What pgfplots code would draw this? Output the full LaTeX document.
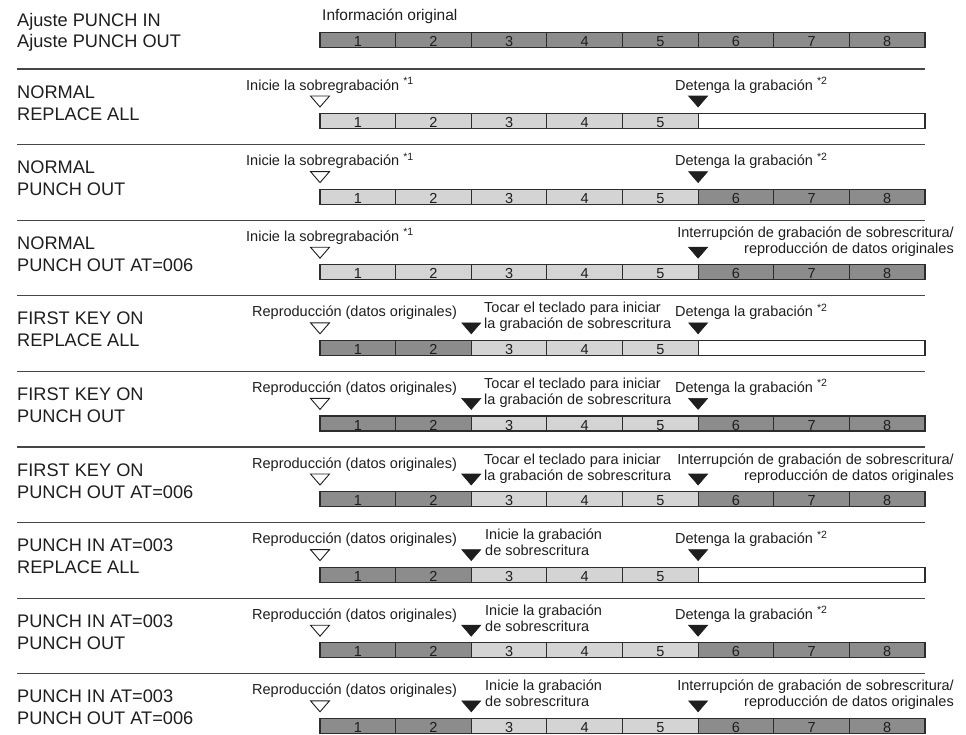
\documentclass[border=0pt]{standalone}
\usepackage{fontspec}
\setmainfont{Liberation Sans}
\usepackage{pgfplots}
\pgfplotsset{compat=1.18}
\definecolor{segD}{RGB}{140,140,140}
\definecolor{segL}{RGB}{212,212,212}
\definecolor{edge}{RGB}{45,45,45}
\definecolor{sepc}{RGB}{70,70,70}
\definecolor{txt}{RGB}{30,30,30}
\newcommand\lblfont{\fontsize{18.2}{22}\selectfont}
\newcommand\annfont{\fontsize{14.5}{16}\selectfont}
\newcommand\ttlfont{\fontsize{15.5}{17}\selectfont}
\newcommand\numfont{\fontsize{14.5}{15}\selectfont}
\newcommand\sups[1]{\raisebox{5.5pt}{\fontsize{10.5}{11}\selectfont #1}}
% one block of a bar: x0, x1, row centre, colour
\newcommand{\segbox}[4]{\pgfmathsetmacro\yt{#3-7.5}\pgfmathsetmacro\yb{#3+7.5}%
  \edef\tmp{\noexpand\addplot[draw=none,fill=#4] coordinates {(#1,\yt) (#2,\yt) (#2,\yb) (#1,\yb)} --cycle;}\tmp}
\newcommand{\divline}[2]{\pgfmathsetmacro\yt{#2-7.5}\pgfmathsetmacro\yb{#2+7.5}%
  \edef\tmp{\noexpand\addplot[draw=edge,line width=1.1pt] coordinates {(#1,\yt) (#1,\yb)};}\tmp}
\newcommand{\outline}[1]{\pgfmathsetmacro\yt{#1-7.5}\pgfmathsetmacro\yb{#1+7.5}%
  \edef\tmp{\noexpand\addplot[draw=edge,line width=1.2pt] coordinates {(320,\yt) (925,\yt) (925,\yb) (320,\yb)} --cycle;}\tmp}
\newcommand{\sepline}[1]{\pgfmathsetmacro\ys{#1-52}%
  \edef\tmp{\noexpand\addplot[draw=sepc,line width=1.1pt] coordinates {(17,\ys) (925,\ys)};}\tmp}
\newcommand{\numlbl}[3]{\pgfmathsetmacro\yn{#2+6.6}%
  \edef\tmp{\noexpand\node[anchor=base,inner sep=0pt,text=txt,font=\noexpand\numfont] at (axis cs:#1,\yn)}\tmp{#3};}
\newcommand{\tri}[4]{\pgfmathsetmacro\ya{#2-25}\pgfmathsetmacro\yp{#2-14}%
  \pgfmathsetmacro\xl{#1-9.5}\pgfmathsetmacro\xr{#1+9.5}%
  \edef\tmp{\noexpand\addplot[draw=txt,line width=#4,fill=#3] coordinates {(\xl,\ya) (\xr,\ya) (#1,\yp)} --cycle;}\tmp}
\newcommand{\opentri}[1]{\tri{320}{#1}{white}{0.9pt}}
\newcommand{\fulltri}[2]{\tri{#1}{#2}{txt}{0.6pt}}
\newcommand{\txtat}[6]{\pgfmathsetmacro\yy{#2#3}%
  \edef\tmp{\noexpand\node[anchor=#4,inner sep=0pt,text=txt,font=\noexpand#5] at (axis cs:#1,\yy)}\tmp{#6};}
% dividers and numbers
\newcommand{\divsfive}[1]{\divline{395.6}{#1}\divline{471.25}{#1}\divline{546.9}{#1}\divline{622.5}{#1}\divline{698.1}{#1}}
\newcommand{\divsall}[1]{\divsfive{#1}\divline{773.75}{#1}\divline{849.4}{#1}}
\newcommand{\numsfive}[1]{\numlbl{357.8}{#1}{1}\numlbl{433.4}{#1}{2}\numlbl{509.1}{#1}{3}\numlbl{584.7}{#1}{4}\numlbl{660.3}{#1}{5}}
\newcommand{\numsall}[1]{\numsfive{#1}\numlbl{735.9}{#1}{6}\numlbl{811.6}{#1}{7}\numlbl{887.2}{#1}{8}}
% row types
\newcommand{\rowO}[1]{\segbox{320}{925}{#1}{segD}\divsall{#1}\outline{#1}\numsall{#1}}
\newcommand{\rowR}[1]{\segbox{320}{698.1}{#1}{segL}\segbox{698.1}{925}{#1}{white}\divsfive{#1}\outline{#1}\numsfive{#1}}
\newcommand{\rowP}[1]{\segbox{320}{698.1}{#1}{segL}\segbox{698.1}{925}{#1}{segD}\divsall{#1}\outline{#1}\numsall{#1}}
\newcommand{\rowF}[1]{\segbox{320}{471.25}{#1}{segD}\segbox{471.25}{698.1}{#1}{segL}\segbox{698.1}{925}{#1}{white}\divsfive{#1}\outline{#1}\numsfive{#1}}
\newcommand{\rowG}[1]{\segbox{320}{471.25}{#1}{segD}\segbox{471.25}{698.1}{#1}{segL}\segbox{698.1}{925}{#1}{segD}\divsall{#1}\outline{#1}\numsall{#1}}
% texts
\newcommand{\labels}[3]{\txtat{17}{#1}{-23}{base west}{\lblfont}{#2}\txtat{17}{#1}{-1}{base west}{\lblfont}{#3}}
\newcommand{\inicie}[1]{\txtat{246}{#1}{-31}{base west}{\annfont}{Inicie la sobregrabación \sups{*1}}}
\newcommand{\detenga}[1]{\txtat{675}{#1}{-31}{base west}{\annfont}{Detenga la grabación \sups{*2}}}
\newcommand{\reprod}[1]{\txtat{252}{#1}{-31}{base west}{\annfont}{Reproducción (datos originales)}}
\newcommand{\interr}[1]{\txtat{954}{#1}{-35}{base east}{\annfont}{Interrupción de grabación de sobrescritura/}\txtat{954}{#1}{-19}{base east}{\annfont}{reproducción de datos originales}}
\newcommand{\tocar}[1]{\txtat{484}{#1}{-35}{base west}{\annfont}{Tocar el teclado para iniciar}\txtat{484}{#1}{-19}{base west}{\annfont}{la grabación de sobrescritura}}
\newcommand{\iniciegr}[1]{\txtat{485}{#1}{-35}{base west}{\annfont}{Inicie la grabación}\txtat{485}{#1}{-19}{base west}{\annfont}{de sobrescritura}}
\begin{document}
\begin{tikzpicture}
\begin{axis}[
  scale only axis, width=966pt, height=734pt,
  xmin=0, xmax=966, ymin=0, ymax=734, y dir=reverse,
  hide axis, clip=false,
]
% header row
\rowO{40}
\txtat{322}{40}{-20}{base west}{\ttlfont}{Información original}
\txtat{17}{40}{-14}{base west}{\lblfont}{Ajuste PUNCH IN}
\txtat{17}{40}{+7}{base west}{\lblfont}{Ajuste PUNCH OUT}
% row 1
\sepline{121}\rowR{121}\labels{121}{NORMAL}{REPLACE ALL}
\inicie{121}\detenga{121}\opentri{121}\fulltri{698.1}{121}
% row 2
\sepline{196.6}\rowP{196.6}\labels{196.6}{NORMAL}{PUNCH OUT}
\inicie{196.6}\detenga{196.6}\opentri{196.6}\fulltri{698.1}{196.6}
% row 3
\sepline{272.2}\rowP{272.2}\labels{272.2}{NORMAL}{PUNCH OUT AT=006}
\inicie{272.2}\interr{272.2}\opentri{272.2}\fulltri{698.1}{272.2}
% row 4
\sepline{347.8}\rowF{347.8}\labels{347.8}{FIRST KEY ON}{REPLACE ALL}
\reprod{347.8}\tocar{347.8}\detenga{347.8}\opentri{347.8}\fulltri{471.25}{347.8}\fulltri{698.1}{347.8}
% row 5
\sepline{423.4}\rowG{423.4}\labels{423.4}{FIRST KEY ON}{PUNCH OUT}
\reprod{423.4}\tocar{423.4}\detenga{423.4}\opentri{423.4}\fulltri{471.25}{423.4}\fulltri{698.1}{423.4}
% row 6
\sepline{499}\rowG{499}\labels{499}{FIRST KEY ON}{PUNCH OUT AT=006}
\reprod{499}\tocar{499}\interr{499}\opentri{499}\fulltri{471.25}{499}\fulltri{698.1}{499}
% row 7
\sepline{574.6}\rowF{574.6}\labels{574.6}{PUNCH IN AT=003}{REPLACE ALL}
\reprod{574.6}\iniciegr{574.6}\detenga{574.6}\opentri{574.6}\fulltri{471.25}{574.6}\fulltri{698.1}{574.6}
% row 8
\sepline{650.2}\rowG{650.2}\labels{650.2}{PUNCH IN AT=003}{PUNCH OUT}
\reprod{650.2}\iniciegr{650.2}\detenga{650.2}\opentri{650.2}\fulltri{471.25}{650.2}\fulltri{698.1}{650.2}
% row 9
\sepline{725.8}\rowG{725.8}\labels{725.8}{PUNCH IN AT=003}{PUNCH OUT AT=006}
\reprod{725.8}\iniciegr{725.8}\interr{725.8}\opentri{725.8}\fulltri{471.25}{725.8}\fulltri{698.1}{725.8}
\end{axis}
\pgfresetboundingbox
\path (current axis.south west) rectangle (current axis.north east);
\end{tikzpicture}
\end{document}
